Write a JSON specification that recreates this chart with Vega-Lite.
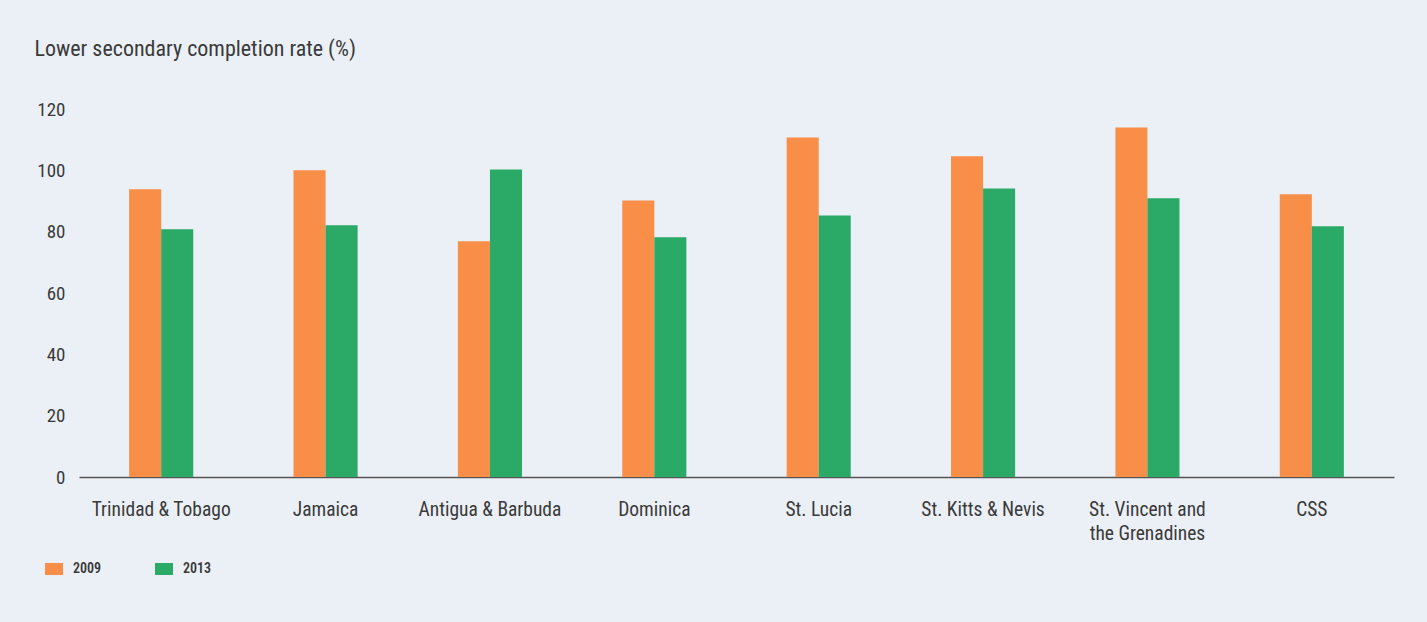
{
  "$schema": "https://vega.github.io/schema/vega-lite/v6.json",
  "autosize": "none",
  "width": 1315,
  "height": 368,
  "padding": {"left": 79, "top": 109, "right": 33, "bottom": 145},
  "background": "#ebf0f7",
  "data": {
    "values": [
      {"country": "Trinidad & Tobago", "year": "2009", "rate": 93.8},
      {"country": "Trinidad & Tobago", "year": "2013", "rate": 80.8},
      {"country": "Jamaica", "year": "2009", "rate": 100.0},
      {"country": "Jamaica", "year": "2013", "rate": 82.1},
      {"country": "Antigua & Barbuda", "year": "2009", "rate": 76.9},
      {"country": "Antigua & Barbuda", "year": "2013", "rate": 100.3},
      {"country": "Dominica", "year": "2009", "rate": 90.2},
      {"country": "Dominica", "year": "2013", "rate": 78.2},
      {"country": "St. Lucia", "year": "2009", "rate": 110.7},
      {"country": "St. Lucia", "year": "2013", "rate": 85.3},
      {"country": "St. Kitts & Nevis", "year": "2009", "rate": 104.6},
      {"country": "St. Kitts & Nevis", "year": "2013", "rate": 94.1},
      {"country": "St. Vincent and the Grenadines", "year": "2009", "rate": 114.0},
      {"country": "St. Vincent and the Grenadines", "year": "2013", "rate": 90.9},
      {"country": "CSS", "year": "2009", "rate": 92.2},
      {"country": "CSS", "year": "2013", "rate": 81.8}
    ]
  },
  "mark": {"type": "bar"},
  "encoding": {
    "x": {
      "field": "country",
      "type": "nominal",
      "sort": null,
      "scale": {"paddingInner": 0.61, "paddingOuter": 0.305},
      "axis": {
        "title": null,
        "labelAngle": 0,
        "ticks": false,
        "domainColor": "#555555",
        "domainWidth": 1.5,
        "labelPadding": 23,
        "labelBaseline": "top",
        "labelFontSize": 19.5,
        "labelLineHeight": 24,
        "labelColor": "#3a3a3a",
        "labelLimit": 300,
        "labelExpr": "datum.label == 'St. Vincent and the Grenadines' ? ['St. Vincent and', 'the Grenadines'] : datum.label"
      }
    },
    "xOffset": {"field": "year", "type": "nominal", "scale": {"paddingInner": 0, "paddingOuter": 0}},
    "y": {
      "field": "rate",
      "type": "quantitative",
      "scale": {"domain": [0, 120], "nice": false},
      "axis": {
        "title": "Lower secondary completion rate (%)",
        "titleAngle": 0,
        "titleAlign": "left",
        "titleBaseline": "middle",
        "titleX": -45,
        "titleY": -61,
        "titleFontSize": 22,
        "titleFontWeight": "normal",
        "titleColor": "#3a3a3a",
        "values": [0, 20, 40, 60, 80, 100, 120],
        "grid": false,
        "domain": false,
        "ticks": false,
        "labelPadding": 14,
        "labelFontSize": 19,
        "labelColor": "#3a3a3a"
      }
    },
    "color": {
      "field": "year",
      "type": "nominal",
      "scale": {"domain": ["2009", "2013"], "range": ["#f88e48", "#2ba966"]},
      "legend": {
        "title": null,
        "orient": "none",
        "legendX": -34,
        "legendY": 451,
        "direction": "horizontal",
        "columns": 2,
        "columnPadding": 53,
        "symbolType": "M-1,-0.67H1V0.67H-1Z",
        "symbolSize": 324,
        "symbolStrokeWidth": 0,
        "symbolOpacity": 1,
        "labelFontSize": 14,
        "labelOffset": 10,
        "labelColor": "#3a3a3a",
        "labelFontWeight": 600
      }
    }
  },
  "config": {
    "font": "'Liberation Sans Narrow', 'Roboto Condensed', 'DejaVu Sans Condensed', sans-serif",
    "view": {"stroke": null}
  }
}
